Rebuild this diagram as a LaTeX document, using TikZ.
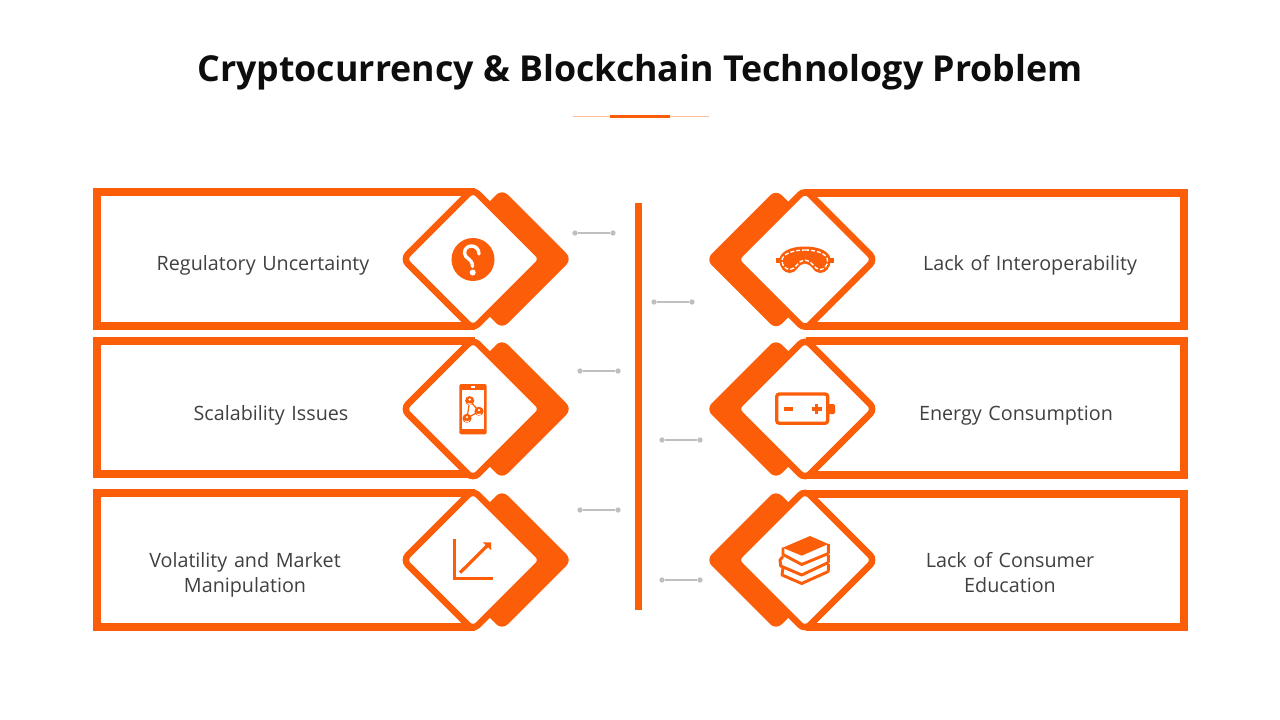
\documentclass[tikz,border=0pt]{standalone}
\usepackage{fontspec}
\setmainfont{Open Sans}
\newfontfamily\rowfont{Open Sans}[WordSpace=1.3]
\definecolor{panelorange}{HTML}{FB5D08}
\definecolor{dotgrey}{HTML}{BFBFBF}
\definecolor{labelgrey}{HTML}{404040}
\definecolor{titleblack}{HTML}{0D0D0D}
\definecolor{peach}{HTML}{FDBE9C}
\begin{document}
\begin{tikzpicture}[x=0.75pt, y=-0.75pt,
    frameline/.style={draw=panelorange, line width=6pt, miter limit=10},
    backdiamond/.style={fill=panelorange, rounded corners=6pt},
    frontdiamond/.style={draw=panelorange, fill=white, line width=4.9pt, rounded corners=5.25pt},
    iconline/.style={draw=panelorange, line width=2.5pt},
    rowlabel/.style={text=labelgrey, align=center, font=\rowfont\fontsize{14.8}{18.75}\selectfont},
    enddot/.style={circle, fill=dotgrey, inner sep=0pt, minimum size=4pt}]
    \useasboundingbox (0, 0) rectangle (1280, 720);

    \node[text=titleblack, font=\bfseries\fontsize{26.8}{32}\selectfont] (title) at (640, 72.5) {Cryptocurrency \& Blockchain Technology Problem};
    \draw[peach, line width=0.9pt] (573, 116.5) -- (709, 116.5);
    \draw[panelorange, line width=2.4pt] (610, 116.5) -- (670, 116.5);

    % left column
    \foreach \cy/\ya/\yb in {259/192/326, 409/341/474, 560/493/627} {
        \draw[frameline] (475, \ya) -- (97, \ya) -- (97, \yb) -- (475, \yb);
        \fill[backdiamond] (502, \cy-70) -- (572, \cy) -- (502, \cy+70) -- (432, \cy) -- cycle;
        \draw[frontdiamond] (473, \cy-70) -- (543, \cy) -- (473, \cy+70) -- (403, \cy) -- cycle;
    }

    % right column
    \foreach \cy/\ya/\yb in {259.5/193/326, 409/341/475, 560/494/627} {
        \draw[frameline] (806, \ya) -- (1184, \ya) -- (1184, \yb) -- (806, \yb);
        \fill[backdiamond] (776, \cy-70) -- (846, \cy) -- (776, \cy+70) -- (706, \cy) -- cycle;
        \draw[frontdiamond] (805, \cy-70) -- (875, \cy) -- (805, \cy+70) -- (735, \cy) -- cycle;
    }

    \fill[panelorange] (635, 203) rectangle (642, 610);

    \foreach \n/\xa/\xb/\yy in {a/575/613/233, b/580/618/371, c/580/618/510, d/654/692/302, e/662/700/440, f/662/700/580} {
        \node[enddot] (\n1) at (\xa, \yy) {};
        \node[enddot] (\n2) at (\xb, \yy) {};
        \draw[dotgrey, line width=1.2pt] (\n1) -- (\n2);
    }

    \node[rowlabel] (regulatory) at (263, 265) {Regulatory Uncertainty};
    \node[rowlabel] (scalability) at (271, 415) {Scalability Issues};
    \node[rowlabel] (volatility) at (245, 574.5) {Volatility and Market\\Manipulation};
    \node[rowlabel] (interop) at (1030, 265) {Lack of Interoperability};
    \node[rowlabel] (energy) at (1016, 415.5) {Energy Consumption};
    \node[rowlabel] (education) at (1010, 572.5) {Lack of Consumer\\Education};

    % question icon
    \fill[panelorange] (473, 259.5) circle (21.5);
    \draw[white, line width=2.5pt, line cap=round] (479, 254) .. controls (479, 243.5) and (464.5, 243.5) .. (464.5, 253) .. controls (464.5, 259) and (472.5, 258) .. (472.5, 266.5);
    \fill[white] (472.7, 272.5) circle (3);

    % phone icon
    \fill[panelorange, rounded corners=1.5pt] (459.3, 384) rectangle (486.7, 434.3);
    \fill[white] (461.7, 390) rectangle (484.3, 429);
    \fill[white] (470.5, 386) rectangle (475, 387.5);
    \draw[panelorange, line width=0.9pt] (469.7, 400.7) -- (479, 411.3) (469.7, 400.7) -- (467, 418.3) (479, 411.3) -- (467, 418.3);
    \foreach \px/\py in {469.7/400.7, 479/411.3, 467/418.3} {
        \fill[panelorange] (\px, \py) circle (4.6);
        \fill[white] (\px, \py-1.2) circle (1.3);
        \fill[white] (\px-2.4, \py+2.6) -- (\px-2.4, \py+1.8) arc[start angle=180, end angle=0, radius=2.4] -- (\px+2.4, \py+2.6) -- cycle;
    }

    % chart icon
    \draw[panelorange, line width=2.5pt, miter limit=10] (454.3, 539) -- (454.3, 578.3) -- (493, 578.3);
    \draw[panelorange, line width=2.4pt] (460, 572.7) -- (488, 545);
    \fill[panelorange] (482.7, 542.3) -- (491, 542.3) -- (491, 550) -- cycle;

    % mask icon
    \fill[panelorange] (775.7, 258) rectangle (781, 262.5);
    \fill[panelorange] (829, 258) rectangle (834.3, 262.5);
    \fill[panelorange] (805, 246.5) .. controls (820, 246.5) and (830.5, 252) .. (830.5, 260) .. controls (830.5, 268) and (826, 273) .. (820, 273) .. controls (813, 273) and (812, 263.5) .. (805, 263.5) .. controls (798, 263.5) and (797, 273) .. (790, 273) .. controls (784, 273) and (779.5, 268) .. (779.5, 260) .. controls (779.5, 252) and (790, 246.5) .. (805, 246.5) -- cycle;
    \draw[white, line width=1pt, dash pattern=on 3pt off 1.5pt] (805, 250) .. controls (817, 250) and (827.5, 254) .. (827.5, 260.5) .. controls (827.5, 266) and (824, 269.5) .. (820, 269.5) .. controls (814, 269.5) and (812, 260) .. (805, 260) .. controls (798, 260) and (796, 269.5) .. (790, 269.5) .. controls (786, 269.5) and (782, 266) .. (782, 260.5) .. controls (782, 254) and (793, 250) .. (805, 250) -- cycle;

    % battery icon
    \draw[iconline, rounded corners=2pt] (776.7, 394) rectangle (827.7, 423.3);
    \fill[panelorange, rounded corners=1pt] (828, 404) rectangle (835, 414);
    \draw[panelorange, line width=2.4pt] (784, 409) -- (793.3, 409);
    \draw[panelorange, line width=2.4pt] (811.7, 409) -- (821.7, 409) (816.7, 404) -- (816.7, 414);

    % books icon
    \fill[panelorange] (810, 536) -- (828.3, 544) -- (801.7, 555.7) -- (782.7, 547.7) -- cycle;
    \draw[iconline, line width=2.2pt, line join=round] (783, 547.7) -- (783, 554.5) -- (801.7, 564.5) -- (828.3, 553.5) (828.3, 544) -- (828.3, 553.5);
    \draw[iconline, line width=2.2pt, line join=round] (783, 556.5) -- (780, 560) -- (780.7, 566) -- (801.7, 575) -- (828.3, 562.5) (828.3, 555) -- (828.3, 562.5);
    \draw[iconline, line width=2.2pt, line join=round] (783, 568) -- (782, 575) -- (801.7, 583.5) -- (828.3, 571.5) (828.3, 564) -- (828.3, 571.5);
\end{tikzpicture}
\end{document}
